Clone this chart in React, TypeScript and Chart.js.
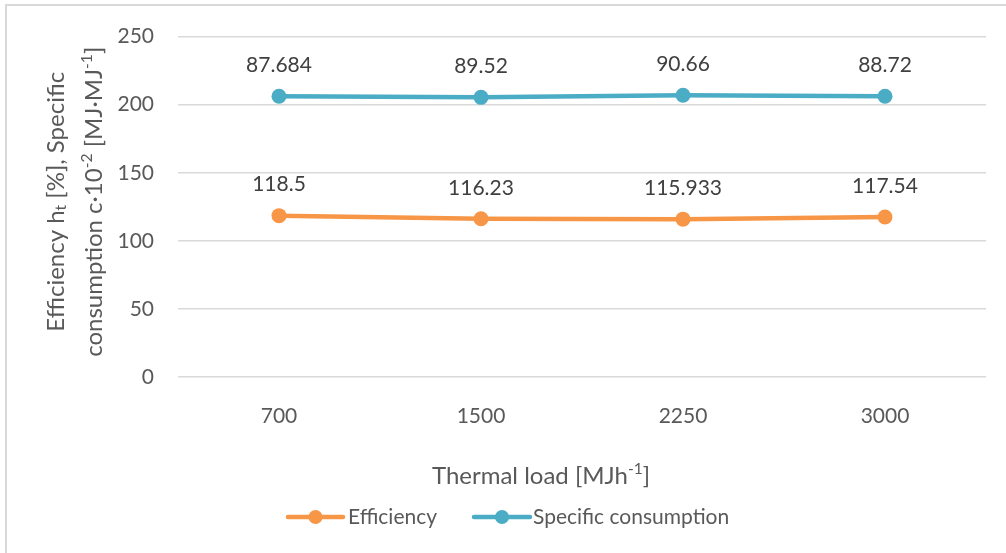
import React, { useEffect, useRef } from "react";
import { Chart, registerables } from "chart.js";

Chart.register(...registerables);

const categories = ["700", "1500", "2250", "3000"];
const efficiency = [118.5, 116.23, 115.933, 117.54];
const specificConsumption = [206.2, 205.4, 206.9, 206.2];
const efficiencyLabels = ["118.5", "116.23", "115.933", "117.54"];
const specificLabels = ["87.684", "89.52", "90.66", "88.72"];
const yTicks = { min: 0, max: 250, step: 50 };

const ORANGE = "#F79646";
const BLUE = "#4BACC6";
const FONT = "Lato, 'Open Sans', sans-serif";
const SMALL = 21;
const BIG = 24;

type Seg = { t: string; m?: "sub" | "sup" };

function drawRich(ctx: CanvasRenderingContext2D, segs: Seg[], size: number, color: string) {
  const widths = segs.map((s) => {
    const sz = s.m ? size * 0.65 : size;
    ctx.font = `${sz}px ${FONT}`;
    return ctx.measureText(s.t).width;
  });
  const total = widths.reduce((a, b) => a + b, 0);
  let x = -total / 2;
  ctx.fillStyle = color;
  ctx.textAlign = "left";
  ctx.textBaseline = "middle";
  segs.forEach((s, i) => {
    const sz = s.m ? size * 0.65 : size;
    ctx.font = `${sz}px ${FONT}`;
    let dy = 0;
    if (s.m === "sup") dy = -size * 0.3;
    if (s.m === "sub") dy = size * 0.22;
    ctx.fillText(s.t, x, dy);
    x += widths[i];
  });
}

const decorPlugin = {
  id: "decor",
  afterDatasetsDraw(chart: any) {
    const ctx: CanvasRenderingContext2D = chart.ctx;
    ctx.save();
    const labelSets = [efficiencyLabels, specificLabels];
    chart.data.datasets.forEach((_: any, di: number) => {
      const meta = chart.getDatasetMeta(di);
      meta.data.forEach((pt: any, i: number) => {
        ctx.font = `${SMALL}px ${FONT}`;
        ctx.fillStyle = "#404040";
        ctx.textAlign = "center";
        ctx.textBaseline = "middle";
        ctx.fillText(labelSets[di][i], pt.x, pt.y - 31);
      });
    });
    ctx.restore();
  },
  afterDraw(chart: any) {
    const ctx: CanvasRenderingContext2D = chart.ctx;
    const area = chart.chartArea;
    ctx.save();
    ctx.strokeStyle = "#d9d9d9";
    ctx.lineWidth = 2;
    ctx.beginPath();
    ctx.moveTo(6, 553);
    ctx.lineTo(6, 5);
    ctx.lineTo(1006, 5);
    ctx.stroke();

    const cy = (area.top + area.bottom) / 2 - 5;
    ctx.save();
    ctx.translate(56, cy);
    ctx.rotate(-Math.PI / 2);
    drawRich(ctx, [{ t: "Efficiency h" }, { t: "t", m: "sub" }, { t: " [%], Specific" }], BIG, "#595959");
    ctx.restore();
    ctx.save();
    ctx.translate(94, cy);
    ctx.rotate(-Math.PI / 2);
    drawRich(
      ctx,
      [{ t: "consumption c·10" }, { t: "-2", m: "sup" }, { t: " [MJ·MJ" }, { t: "-1", m: "sup" }, { t: "]" }],
      BIG,
      "#595959"
    );
    ctx.restore();

    ctx.save();
    ctx.translate(541, 476);
    drawRich(ctx, [{ t: "Thermal load [MJh" }, { t: "-1", m: "sup" }, { t: "]" }], BIG, "#595959");
    ctx.restore();

    const items = [
      { label: chart.data.datasets[0].label, color: ORANGE, x0: 288, x1: 343, tx: 348 },
      { label: chart.data.datasets[1].label, color: BLUE, x0: 474, x1: 530, tx: 533 },
    ];
    const ly = 517;
    items.forEach((it) => {
      ctx.strokeStyle = it.color;
      ctx.lineWidth = 4.5;
      ctx.lineCap = "round";
      ctx.beginPath();
      ctx.moveTo(it.x0, ly);
      ctx.lineTo(it.x1, ly);
      ctx.stroke();
      ctx.fillStyle = it.color;
      ctx.beginPath();
      ctx.arc((it.x0 + it.x1) / 2, ly, 7, 0, Math.PI * 2);
      ctx.fill();
      ctx.font = `${SMALL}px ${FONT}`;
      ctx.fillStyle = "#595959";
      ctx.textAlign = "left";
      ctx.textBaseline = "middle";
      ctx.fillText(it.label, it.tx, ly);
    });
    ctx.restore();
  },
};

export default function App() {
  const ref = useRef<HTMLCanvasElement>(null);
  useEffect(() => {
    if (!ref.current) return;
    const chart = new Chart(ref.current, {
      type: "line",
      data: {
        labels: categories,
        datasets: [
          {
            label: "Efficiency",
            data: efficiency,
            borderColor: ORANGE,
            backgroundColor: ORANGE,
            borderWidth: 4.5,
            pointRadius: 7.5,
            pointHoverRadius: 7.5,
            pointBackgroundColor: ORANGE,
            pointBorderColor: ORANGE,
            pointBorderWidth: 0,
            tension: 0,
          },
          {
            label: "Specific consumption",
            data: specificConsumption,
            borderColor: BLUE,
            backgroundColor: BLUE,
            borderWidth: 4.5,
            pointRadius: 7.5,
            pointHoverRadius: 7.5,
            pointBackgroundColor: BLUE,
            pointBorderColor: BLUE,
            pointBorderWidth: 0,
            tension: 0,
          },
        ],
      },
      options: {
        animation: false,
        responsive: false,
        devicePixelRatio: 1,
        layout: { padding: { left: 0, right: 20, top: 33, bottom: 0 } },
        plugins: {
          legend: { display: false },
          tooltip: { enabled: false },
          title: { display: false },
        },
        scales: {
          x: {
            offset: true,
            grid: { display: false, offset: true },
            border: { display: false },
            ticks: { color: "#595959", font: { family: FONT, size: SMALL }, padding: 19 },
            afterFit: (s: any) => {
              s.height = 176;
            },
          },
          y: {
            min: yTicks.min,
            max: yTicks.max,
            ticks: { stepSize: yTicks.step, color: "#595959", font: { family: FONT, size: SMALL }, padding: 24 },
            grid: { color: "#d9d9d9", lineWidth: 1.5, drawTicks: false },
            border: { display: false },
            afterFit: (s: any) => {
              s.width = 178;
            },
          },
        },
      },
      plugins: [decorPlugin],
    });
    return () => chart.destroy();
  }, []);
  return (
    <div style={{ position: "fixed", left: 0, top: 0, width: 1006, height: 553, background: "#fff" }}>
      <canvas ref={ref} width={1006} height={553} style={{ width: 1006, height: 553, display: "block" }} />
    </div>
  );
}
